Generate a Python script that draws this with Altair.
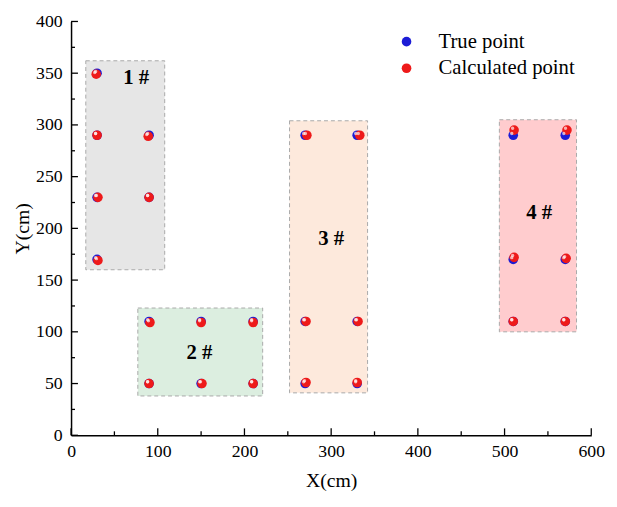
import altair as alt
import pandas as pd

W, H = 528, 420

# rectangles (regions)
box_names = ["1 #", "2 #", "3 #", "4 #"]
box_x1 = [17, 77, 252, 494]
box_x2 = [108, 221, 342, 583]
box_y1 = [160, 38, 41, 100]
box_y2 = [362, 123, 304, 305]
box_fills = ["#e6e6e6", "#dceee0", "#fde9dc", "#ffccce"]
label_x = [75, 148, 300, 540]
label_y = [345, 79, 190, 215]

# points
true_x = [30, 30, 90, 30, 90, 30,
          90, 150, 210, 90, 150, 210,
          270, 330, 270, 330, 270, 330,
          510, 570, 510, 570, 510, 570]
true_y = [350, 290, 290, 230, 230, 170,
          110, 110, 110, 50, 50, 50,
          290, 290, 110, 110, 50, 50,
          290, 290, 170, 170, 110, 110]
calc_x = [29, 30, 89, 31, 90, 31,
          91, 150, 210, 90, 151, 210,
          272, 333, 271, 331, 271, 330,
          511, 572, 511, 571, 510, 570]
calc_y = [349, 290, 289, 230, 230, 169,
          109, 109, 109, 50, 50, 50,
          290, 290, 110, 110, 51, 51,
          295, 295, 172, 171, 110, 110]

series_names = ["True point", "Calculated point"]
series_colors = ["#1c1cd6", "#ee1a1a"]

x_major = [0, 100, 200, 300, 400, 500, 600]
x_minor = [50, 150, 250, 350, 450, 550]
y_major = [0, 50, 100, 150, 200, 250, 300, 350, 400]
y_minor = [25, 75, 125, 175, 225, 275, 325, 375]

FONT = "Liberation Serif"

boxes = pd.DataFrame({"box": box_names, "x1": box_x1, "x2": box_x2,
                      "y1": box_y1, "y2": box_y2, "lx": label_x, "ly": label_y})
pts = pd.concat([
    pd.DataFrame({"x": true_x, "y": true_y, "series": series_names[0]}),
    pd.DataFrame({"x": calc_x, "y": calc_y, "series": series_names[1]}),
], ignore_index=True)

xs = alt.Scale(domain=[0, 600], nice=False)
ys = alt.Scale(domain=[0, 400], nice=False)

x_axis = alt.Axis(values=x_major, title="X(cm)", format="d")
y_axis = alt.Axis(values=y_major, title="Y(cm)", format="d")

rects = alt.Chart(boxes).mark_rect(
    stroke="#a9a9a9", strokeWidth=1, strokeDash=[4, 3]
).encode(
    x=alt.X("x1:Q", scale=xs, axis=x_axis),
    x2="x2:Q",
    y=alt.Y("y1:Q", scale=ys, axis=y_axis),
    y2="y2:Q",
    fill=alt.Fill("box:N", scale=alt.Scale(domain=box_names, range=box_fills), legend=None),
)

labels = alt.Chart(boxes).mark_text(
    font=FONT, fontSize=21, fontWeight="bold", color="black"
).encode(
    x=alt.X("lx:Q", scale=xs), y=alt.Y("ly:Q", scale=ys), text="box:N"
)

points = alt.Chart(pts).mark_circle(size=95, opacity=1).encode(
    x=alt.X("x:Q", scale=xs),
    y=alt.Y("y:Q", scale=ys),
    color=alt.Color(
        "series:N",
        scale=alt.Scale(domain=series_names, range=series_colors),
        sort=series_names,
        legend=alt.Legend(
            title=None, orient="none", legendX=330, legendY=10,
            labelFont=FONT, labelFontSize=21, labelColor="black",
            symbolType="circle", symbolSize=95, labelOffset=22,
            rowPadding=5, symbolStrokeWidth=0,
        ),
    ),
    order=alt.Order("order:Q"),
).transform_calculate(order="datum.series == 'True point' ? 0 : 1")

shine = alt.Chart(pts).mark_circle(
    size=12, color="white", opacity=0.65, xOffset=-1.5, yOffset=-1.8
).encode(
    x=alt.X("x:Q", scale=xs), y=alt.Y("y:Q", scale=ys)
)

xt_major = alt.Chart(pd.DataFrame({"v": x_major})).mark_rule(color="black", strokeWidth=1.3).encode(
    x=alt.X("v:Q", scale=xs), y=alt.value(H), y2=alt.value(H - 7))
xt_minor = alt.Chart(pd.DataFrame({"v": x_minor})).mark_rule(color="black", strokeWidth=1.3).encode(
    x=alt.X("v:Q", scale=xs), y=alt.value(H), y2=alt.value(H - 4))
yt_major = alt.Chart(pd.DataFrame({"v": y_major})).mark_rule(color="black", strokeWidth=1.3).encode(
    y=alt.Y("v:Q", scale=ys), x=alt.value(0), x2=alt.value(7))
yt_minor = alt.Chart(pd.DataFrame({"v": y_minor})).mark_rule(color="black", strokeWidth=1.3).encode(
    y=alt.Y("v:Q", scale=ys), x=alt.value(0), x2=alt.value(4))

chart = alt.layer(
    rects, labels, points, shine, xt_major, xt_minor, yt_major, yt_minor
).properties(
    width=W, height=H,
    autosize=alt.AutoSizeParams(type="none"),
    padding={"left": 64, "top": 10, "right": 18, "bottom": 60},
).configure_view(stroke=None).configure_axis(
    grid=False, ticks=False, domainColor="black", domainWidth=1.5,
    labelFont=FONT, labelFontSize=18, labelColor="black",
    titleFont=FONT, titleFontSize=20, titleFontWeight="normal", titleColor="black",
).configure_axisX(labelPadding=8, titlePadding=10, labelFlush=False
).configure_axisY(labelPadding=9, titlePadding=3)

chart.save("out.html", embed_options={"renderer": "svg", "actions": False})
